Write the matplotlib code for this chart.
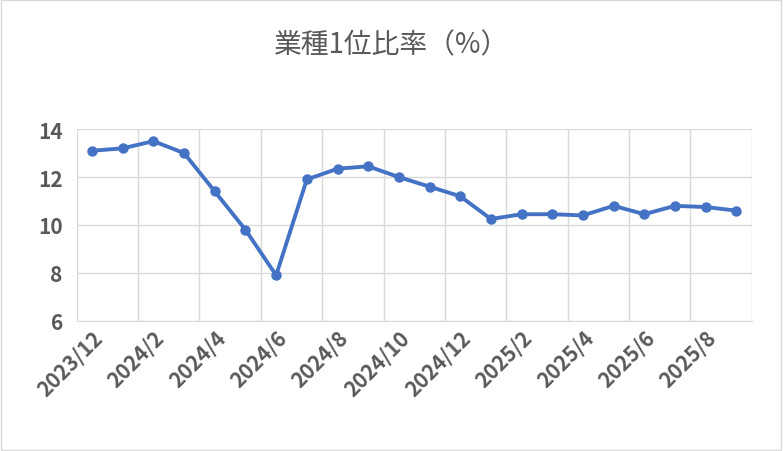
import matplotlib
matplotlib.use("Agg")
import matplotlib.pyplot as plt
from matplotlib.patches import Rectangle

plt.rcParams['font.family'] = ['Noto Sans CJK JP', 'DejaVu Sans']

categories = ["2023/12","2024/1","2024/2","2024/3","2024/4","2024/5","2024/6","2024/7","2024/8","2024/9",
              "2024/10","2024/11","2024/12","2025/1","2025/2","2025/3","2025/4","2025/5","2025/6","2025/7",
              "2025/8","2025/9"]
values = [13.1, 13.2, 13.5, 13.0, 11.4, 9.8, 7.9, 11.9, 12.35, 12.45, 12.0, 11.6, 11.2, 10.25,
          10.45, 10.45, 10.4, 10.8, 10.45, 10.8, 10.75, 10.6]
yticks = [6, 8, 10, 12, 14]

fig = plt.figure(figsize=(7.83, 4.52), dpi=100)
ax = fig.add_axes([0.098, 0.288, 0.862, 0.424])
x = list(range(len(categories)))
ax.plot(x, values, color='#4472C4', lw=2.8, marker='o', ms=6.5, zorder=3)
ax.set_xlim(-0.5, len(categories) - 0.5)
ax.set_ylim(6, 14)
ax.set_yticks(yticks)
ax.set_yticklabels([str(v) for v in yticks], fontsize=15, fontweight='bold', color='#595959')
ax.set_xticks(x[::2])
ax.set_xticklabels(categories[::2], rotation=45, ha='right', rotation_mode='anchor',
                   fontsize=15, fontweight='bold', color='#595959')
ax.set_xticks([i - 0.5 for i in range(0, len(categories) + 1, 2)], minor=True)
ax.tick_params(axis='x', which='major', length=0, pad=4)
ax.tick_params(axis='x', which='minor', length=0)
ax.tick_params(axis='y', length=0, pad=10)
ax.grid(axis='y', color='#D9D9D9', lw=1)
ax.grid(axis='x', which='minor', color='#D9D9D9', lw=1)
for s in ['top', 'right', 'left']:
    ax.spines[s].set_visible(False)
ax.spines['bottom'].set_color('#D9D9D9')
fig.text(0.5, 0.9, '業種1位比率（%）', ha='center', va='center', fontsize=20, color='#595959')
fig.patches.append(Rectangle((0.001, 0.002), 0.997, 0.995, transform=fig.transFigure,
                             fill=False, edgecolor='#D9D9D9', lw=1))
fig.savefig('out.png')
